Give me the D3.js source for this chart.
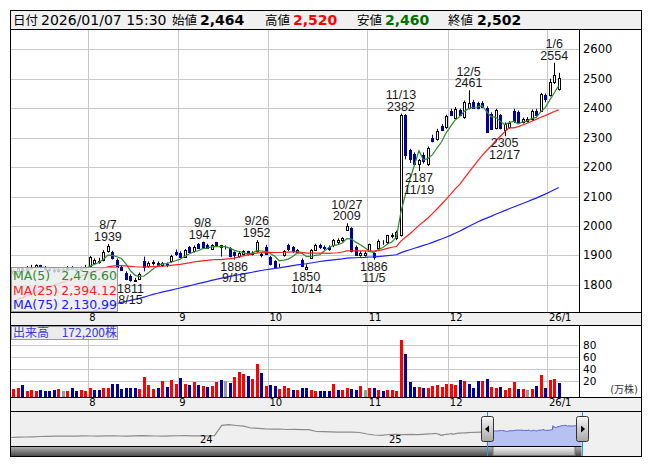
<!DOCTYPE html>
<html lang="ja">
<head>
<meta charset="utf-8">
<title>株価チャート</title>
<script src="https://cdn.jsdelivr.net/npm/d3@7/dist/d3.min.js"></script>
<style>
  html, body { margin: 0; padding: 0; background: #fff; }
  svg { display: block; }
  text { font-family: "DejaVu Sans", "Noto Sans CJK JP", sans-serif; }
  .jp { font-family: "Noto Sans CJK JP", sans-serif; }
  .note { font-family: "Liberation Sans", Arial, sans-serif; }
</style>
</head>
<body>
<svg id="chart" width="653" height="470"></svg>
<script>
// ---------- daily sessions ----------
const dates = [
  "2025-07-08","2025-07-09","2025-07-10","2025-07-11","2025-07-14","2025-07-15","2025-07-16","2025-07-17","2025-07-18",
  "2025-07-22","2025-07-23","2025-07-24","2025-07-25","2025-07-28","2025-07-29","2025-07-30","2025-07-31",
  "2025-08-01","2025-08-04","2025-08-05","2025-08-06","2025-08-07","2025-08-08","2025-08-12","2025-08-13","2025-08-14",
  "2025-08-15","2025-08-18","2025-08-19","2025-08-20","2025-08-21","2025-08-22","2025-08-25","2025-08-26","2025-08-27",
  "2025-08-28","2025-08-29",
  "2025-09-01","2025-09-02","2025-09-03","2025-09-04","2025-09-05","2025-09-08","2025-09-09","2025-09-10","2025-09-11",
  "2025-09-12","2025-09-16","2025-09-17","2025-09-18","2025-09-19","2025-09-22","2025-09-24","2025-09-25","2025-09-26",
  "2025-09-29","2025-09-30",
  "2025-10-01","2025-10-02","2025-10-03","2025-10-06","2025-10-07","2025-10-08","2025-10-09","2025-10-10","2025-10-14",
  "2025-10-15","2025-10-16","2025-10-17","2025-10-20","2025-10-21","2025-10-22","2025-10-23","2025-10-24","2025-10-27",
  "2025-10-28","2025-10-29","2025-10-30","2025-10-31",
  "2025-11-04","2025-11-05","2025-11-06","2025-11-07","2025-11-10","2025-11-11","2025-11-12","2025-11-13","2025-11-14",
  "2025-11-17","2025-11-18","2025-11-19","2025-11-20","2025-11-21","2025-11-25","2025-11-26","2025-11-27","2025-11-28",
  "2025-12-01","2025-12-02","2025-12-03","2025-12-04","2025-12-05","2025-12-08","2025-12-09","2025-12-10","2025-12-11",
  "2025-12-12","2025-12-15","2025-12-16","2025-12-17","2025-12-18","2025-12-19","2025-12-22","2025-12-23","2025-12-24",
  "2025-12-25","2025-12-26","2025-12-29","2025-12-30",
  "2026-01-05","2026-01-06","2026-01-07"
];
const opens = [
  1842,1848,1856,1850,1858,1862,1866,1860,1854,1850,1846,1854,1852,1860,1854,1850,1856,
  1864,1874,1878,1884,1915,1912,1886,1862,1842,1830,1813,1820,1880,1864,1874,1876,1866,1872,1880,1912,
  1910,1896,1928,1914,1938,1944,1936,1922,1944,1934,1930,1926,1912,1898,1906,1914,1904,1914,1902,1928,
  1894,1880,1866,1900,1936,1930,1912,1886,1854,1892,1920,1936,1930,1930,1934,1944,1952,1988,1994,1930,1902,1900,
  1916,1910,1926,1946,1944,1966,1958,1970,2376,2258,2246,2212,2242,2210,2300,2296,2340,2336,
  2392,2368,2394,2370,2400,2422,2416,2418,2402,2382,2334,2376,2326,2336,2392,2388,2354,2356,2362,2392,2392,2444,
  2444,2490,2464
];
const highs = [
  1852,1860,1860,1864,1868,1870,1868,1864,1858,1856,1858,1860,1864,1864,1858,1862,1868,
  1898,1890,1892,1918,1939,1916,1890,1866,1846,1836,1824,1842,1896,1880,1884,1880,1878,1876,1902,1920,
  1914,1922,1932,1934,1942,1947,1940,1938,1946,1936,1934,1928,1914,1914,1918,1916,1914,1952,1910,1936,
  1898,1884,1872,1918,1940,1932,1922,1890,1870,1922,1940,1940,1934,1934,1956,1958,1962,2009,1996,1934,1914,1914,
  1940,1912,1954,1952,1970,1976,1984,2382,2380,2262,2250,2228,2250,2270,2310,2330,2346,2378,
  2398,2404,2398,2426,2461,2428,2422,2424,2406,2386,2398,2380,2352,2356,2398,2392,2368,2370,2396,2398,2452,2450,
  2500,2554,2520
];
const lows = [
  1836,1844,1846,1848,1852,1856,1854,1850,1844,1840,1842,1846,1848,1850,1844,1846,1852,
  1860,1870,1872,1880,1910,1886,1858,1848,1816,1811,1812,1818,1846,1858,1866,1862,1862,1860,1876,1898,
  1890,1892,1908,1910,1922,1926,1922,1918,1930,1896,1920,1894,1886,1892,1900,1900,1900,1910,1894,1904,
  1866,1858,1860,1896,1914,1908,1908,1860,1850,1888,1915,1922,1918,1916,1928,1938,1946,1984,1910,1898,1896,1896,
  1912,1886,1922,1936,1938,1958,1952,1964,2226,2214,2204,2187,2212,2204,2284,2290,2322,2330,
  2374,2364,2374,2364,2396,2400,2396,2400,2316,2326,2328,2328,2305,2330,2350,2346,2348,2352,2358,2372,2388,2420,
  2440,2482,2460
];
const closes = [
  1848,1856,1850,1858,1862,1866,1860,1854,1850,1846,1852,1852,1858,1854,1850,1856,1862,
  1894,1886,1882,1912,1932,1890,1862,1852,1820,1816,1815,1838,1862,1876,1878,1866,1874,1868,1898,1904,
  1894,1918,1912,1930,1926,1930,1924,1934,1936,1928,1928,1898,1900,1910,1914,1904,1910,1944,1904,1906,
  1870,1862,1868,1916,1922,1916,1920,1864,1862,1920,1936,1930,1926,1922,1954,1952,1958,2000,1914,1902,1908,1908,
  1938,1896,1950,1944,1968,1970,1980,2377,2240,2226,2212,2224,2220,2266,2290,2324,2326,2372,
  2378,2398,2378,2420,2418,2402,2400,2404,2320,2330,2394,2332,2346,2350,2356,2352,2362,2362,2390,2378,2447,2432,
  2490,2512,2502
];
// 出来高（万株）
const volumes = [
  6,8,13,3,5,4,5,3,4,5,6,3,3,8,3,5,4,
  8,5,5,8,8,15,15,7,8,9,8,7,26,13,7,8,20,10,22,15,
  25,15,13,18,14,12,10,12,19,22,20,17,27,35,32,28,23,48,33,12,
  14,12,6,11,9,5,5,8,8,5,3,3.3,3.3,3.3,15,5,5,8.3,6.7,5,11.7,5,
  8.3,8.3,5,3.3,5,5,3.3,88,65,19,10,10,8.3,8.3,11.7,13,10,15,
  15,13,21.7,20,15,8.3,20,20,23,10,8.3,10,5,8.3,18,6.7,6.7,5,6.7,11.7,30,8.3,
  21.7,23,17.22
];
// closes of the 74 sessions before the first candle (2025-03-21 .. 2025-07-07)
const priorCloses = [
  1580,1590,1585,1600,1610,1598,1570,1555,1540,1520,1480,
  1420,1450,1400,1480,1470,1490,1500,1510,1505,1520,1530,1545,1550,1560,1575,1580,1585,
  1520,1530,1550,1570,1580,1610,1630,1640,1635,1645,1650,1642,1648,1655,1660,1652,1658,1665,1670,1668,
  1692,1695,1688,1700,1705,1698,1702,1710,1715,1708,1712,1720,1718,1725,1730,1722,1728,1735,1740,1745,1750,
  1800,1815,1822,1830,1840
];
// longer history for the overview strip: one close every 14 days from 2023-01-04
const historyStart = "2023-01-04";
const historyStepDays = 14;
const historyCloses = [
  1200,1230,1250,1270,1300,1320,1340,1330,1350,1345,1360,1350,1340,1355,1370,1350,1345,1360,1380,1365,
  1350,1340,1360,1375,1390,1370,1355,1360,1380,2420,2480,2400,2330,2150,2120,2060,2040,2050,2000,2020,
  1980,1990,1800,1780,1760,1740,1750,1730,1700,1550,1450,1420,1500,1520,1480,1510,1490,1530
];
const priceTicks = [1800, 1900, 2000, 2100, 2200, 2300, 2400, 2500, 2600];
const volumeTicks = [20, 40, 60, 80];
const maPeriods = [5, 25, 75];
// sessions marked with their high or low
const markedHighs = [21, 42, 54, 74, 86, 101, 120];
const markedLows = [26, 49, 65, 80, 90, 109];
const quoteTime = "15:30";

// ---------- layout ----------
const plotL = 11, plotR = 579, frameR = 641;
const headT = 10, headB = 29;
const mainT = 29, mainB = 312;
const volT = 325, volB = 397;
const axis2B = 411;
const navT = 411, navB = 446, scrollB = 456;
const navR = 581.5;
const emptySlots = 4;

const svg = d3.select("#chart");
const parse = d3.timeParse("%Y-%m-%d");
const n = dates.length;
const allCloses = priorCloses.concat(closes);
const fmtInt = d3.format(",");
const fmtMA = d3.format(",.2f");

const x = d3.scaleBand().domain(d3.range(n + emptySlots)).range([plotL, plotR])
  .paddingInner(0.3).paddingOuter(0.15);
const step = x.step();
const cx = i => x(i) + x.bandwidth() / 2;
const slotEdge = i => x(i) - step * x.paddingInner() / 2;

const yP = d3.scaleLinear().domain([1800, 2600]).range([284.9, 49.3]);
const yV = d3.scaleLinear().domain([0, 80]).range([393, 345]);

const gridColor = "#c8c8c8";
const upColor = "#ff0000", downColor = "#00009c", flatColor = "#999999";
const maColors = ["#2e8b2e", "#ff2020", "#2020ff"];

function movingAverage(period) {
  const off = priorCloses.length;
  return closes.map((c, i) => {
    const end = off + i, start = end - period + 1;
    return start < 0 ? null : d3.mean(allCloses.slice(start, end + 1));
  });
}

// month boundaries
const monthStarts = [];
dates.forEach((d, i) => {
  if (i > 0 && d.slice(0, 7) !== dates[i - 1].slice(0, 7)) monthStarts.push(i);
});
const monthLabel = i => {
  const dt = parse(dates[i]);
  return dt.getMonth() === 0 ? `${String(dt.getFullYear()).slice(2)}/1` : String(dt.getMonth() + 1);
};
const md = i => { const dt = parse(dates[i]); return `${dt.getMonth() + 1}/${dt.getDate()}`; };

// ---------- frame and header ----------
svg.append("rect").attr("x", 10.5).attr("y", headT + 0.5).attr("width", frameR - 10).attr("height", scrollB - headT)
  .attr("fill", "#f0f0f0").attr("stroke", "#000");

const last = n - 1;
const head = svg.append("g");
const headBase = 24.5;
const headItems = [
  { label: "日付", lx: 13, value: `${dates[last].replace(/-/g, "/")} ${quoteTime}`, vx: 41, bold: false, color: "#000" },
  { label: "始値", lx: 172, value: fmtInt(opens[last]), vx: 200, bold: true, color: "#000" },
  { label: "高値", lx: 265, value: fmtInt(highs[last]), vx: 293, bold: true, color: "#ff0000" },
  { label: "安値", lx: 357, value: fmtInt(lows[last]), vx: 385, bold: true, color: "#007000" },
  { label: "終値", lx: 448, value: fmtInt(closes[last]), vx: 477, bold: true, color: "#000" }
];
headItems.forEach(h => {
  head.append("text").attr("class", "jp").attr("x", h.lx).attr("y", headBase)
    .attr("font-size", 12.5).attr("fill", "#000").text(h.label);
  head.append("text").attr("x", h.vx).attr("y", headBase).attr("font-size", 14)
    .attr("font-weight", h.bold ? "bold" : "normal").attr("fill", h.color).text(h.value);
});

// ---------- panels ----------
function panel(top, bottom) {
  svg.append("rect").attr("x", plotL).attr("y", top).attr("width", frameR - plotL).attr("height", bottom - top).attr("fill", "#fff");
}
panel(mainT, mainB);
panel(volT, volB);

// axis bands
function monthBand(top, bottom) {
  svg.append("rect").attr("x", plotL).attr("y", top).attr("width", frameR - plotL).attr("height", bottom - top).attr("fill", "#f0f0f0");
  svg.append("g").selectAll("text").data(monthStarts).join("text")
    .attr("x", i => slotEdge(i) + 1.5).attr("y", top + 9).attr("font-size", 10).attr("fill", "#000")
    .text(monthLabel);
}
monthBand(mainB, volT);
monthBand(volB, axis2B);

// gridlines
function vGrid(top, bottom) {
  svg.append("g").selectAll("line").data(monthStarts).join("line")
    .attr("x1", i => Math.round(slotEdge(i)) + 0.5).attr("x2", i => Math.round(slotEdge(i)) + 0.5)
    .attr("y1", top).attr("y2", bottom).attr("stroke", gridColor);
}
vGrid(mainT, mainB);
vGrid(volT, volB);
svg.append("g").selectAll("line").data(priceTicks).join("line")
  .attr("x1", plotL).attr("x2", plotR).attr("y1", d => Math.round(yP(d)) + 0.5).attr("y2", d => Math.round(yP(d)) + 0.5)
  .attr("stroke", gridColor);
svg.append("g").selectAll("line").data(volumeTicks).join("line")
  .attr("x1", plotL).attr("x2", plotR).attr("y1", d => Math.round(yV(d)) + 0.5).attr("y2", d => Math.round(yV(d)) + 0.5)
  .attr("stroke", gridColor);

// right axes
svg.append("g").selectAll("text").data(priceTicks).join("text")
  .attr("x", plotR + 4).attr("y", d => yP(d) + 4).attr("font-size", 11.5).attr("fill", "#000").text(d => d);
svg.append("g").selectAll("text").data(volumeTicks).join("text")
  .attr("x", plotR + 4).attr("y", d => yV(d) + 4).attr("font-size", 10.5).attr("fill", "#000").text(d => d);
svg.append("text").attr("x", frameR - 3).attr("y", volB - 4).attr("text-anchor", "end")
  .attr("font-size", 10).attr("fill", "#333").text("(万株)");

// ---------- candles ----------
svg.append("clipPath").attr("id", "mainClip").append("rect")
  .attr("x", plotL).attr("y", mainT).attr("width", plotR - plotL).attr("height", mainB - mainT);
const mainG = svg.append("g").attr("clip-path", "url(#mainClip)");

const sessions = d3.range(n);
const isUp = i => closes[i] >= opens[i];
const candle = mainG.append("g").selectAll("g").data(sessions).join("g");
candle.append("line")
  .attr("x1", i => Math.round(cx(i)) + 0.5).attr("x2", i => Math.round(cx(i)) + 0.5)
  .attr("y1", i => yP(highs[i])).attr("y2", i => yP(lows[i]))
  .attr("stroke", i => isUp(i) ? "#000" : downColor).attr("stroke-width", 1);
candle.append("rect")
  .attr("x", i => Math.round(cx(i)) - 1 + 0.5)
  .attr("y", i => Math.round(yP(Math.max(opens[i], closes[i]))) + 0.5)
  .attr("width", 2)
  .attr("height", i => Math.max(0, Math.round(yP(Math.min(opens[i], closes[i]))) - Math.round(yP(Math.max(opens[i], closes[i])))))
  .attr("fill", i => isUp(i) ? "#fff" : downColor)
  .attr("stroke", i => isUp(i) ? "#000" : downColor)
  .attr("shape-rendering", "crispEdges");

// moving averages
maPeriods.forEach((p, k) => {
  const ma = movingAverage(p);
  mainG.append("path")
    .datum(sessions)
    .attr("fill", "none").attr("stroke", maColors[k]).attr("stroke-width", 1.2)
    .attr("d", d3.line().defined(i => ma[i] != null).x(cx).y(i => yP(ma[i])));
});

// high / low markers
const noteFont = 12.5, noteGap = 11.7;
markedHighs.forEach(i => {
  const t = mainG.append("text").attr("class", "note").attr("text-anchor", "middle")
    .attr("font-size", noteFont).attr("fill", "#1a1a1a");
  t.append("tspan").attr("x", cx(i)).attr("y", yP(highs[i]) - 3 - noteGap).text(md(i));
  t.append("tspan").attr("x", cx(i)).attr("y", yP(highs[i]) - 3).text(highs[i]);
});
markedLows.forEach(i => {
  const t = mainG.append("text").attr("class", "note").attr("text-anchor", "middle")
    .attr("font-size", noteFont).attr("fill", "#1a1a1a");
  t.append("tspan").attr("x", cx(i)).attr("y", yP(lows[i]) + 11).text(lows[i]);
  t.append("tspan").attr("x", cx(i)).attr("y", yP(lows[i]) + 11 + noteGap).text(md(i));
});

// moving-average legend
const maLegend = svg.append("g");
maLegend.append("rect").attr("x", plotL + 0.5).attr("y", 267.5).attr("width", 106).attr("height", 44)
  .attr("fill", "#ececec").attr("fill-opacity", 0.82).attr("stroke", "#9a9a9a");
maPeriods.forEach((p, k) => {
  const ma = movingAverage(p);
  maLegend.append("text").attr("x", 13).attr("y", 280 + k * 14.5).attr("font-size", 12.5).attr("fill", maColors[k])
    .text(`MA(${p})`);
  maLegend.append("text").attr("x", 117).attr("y", 280 + k * 14.5).attr("font-size", 12.5).attr("fill", maColors[k])
    .attr("text-anchor", "end").text(fmtMA(ma[last]));
});

// ---------- volume ----------
const prevClose = i => i === 0 ? priorCloses[priorCloses.length - 1] : closes[i - 1];
const volColor = i => closes[i] > prevClose(i) ? upColor : closes[i] < prevClose(i) ? downColor : flatColor;
svg.append("g").selectAll("rect").data(sessions).join("rect")
  .attr("x", i => Math.round(cx(i)) - 1).attr("width", 3)
  .attr("y", i => Math.round(yV(volumes[i])))
  .attr("height", i => volB - Math.round(yV(volumes[i])))
  .attr("fill", volColor).attr("shape-rendering", "crispEdges");

const volLegend = svg.append("g");
volLegend.append("rect").attr("x", plotL + 0.5).attr("y", volT + 1.5).attr("width", 106).attr("height", 13)
  .attr("fill", "#ececec").attr("stroke", "#9a9a9a");
volLegend.append("text").attr("class", "jp").attr("x", 13).attr("y", volT + 11.5).attr("font-size", 12)
  .attr("fill", "#3a3ad0").text("出来高");
volLegend.append("text").attr("class", "jp").attr("x", 117).attr("y", volT + 11.5).attr("font-size", 12)
  .attr("text-anchor", "end").attr("fill", "#3a3ad0").text(`${fmtInt(Math.round(volumes[last] * 10000))}株`);

// ---------- overview strip ----------
const navPoints = historyCloses.map((v, k) => ({ date: d3.timeDay.offset(parse(historyStart), k * historyStepDays), v }));
let pd = parse(dates[0]);
const priorDates = [];
while (priorDates.length < priorCloses.length) {
  pd = d3.timeDay.offset(pd, -1);
  if (pd.getDay() !== 0 && pd.getDay() !== 6) priorDates.unshift(pd);
}
priorCloses.forEach((v, k) => navPoints.push({ date: priorDates[k], v }));
const windowPoints = dates.map((d, i) => ({ date: parse(d), v: closes[i] }));
const navX = d3.scaleTime().domain([parse(historyStart), parse(dates[last])]).range([plotL, navR]);
const navY = d3.scaleLinear().domain([1100, 2700]).range([438.5, 422.5]);

svg.append("rect").attr("x", plotL).attr("y", navT).attr("width", navR - plotL).attr("height", navB - navT).attr("fill", "#efefef");
const winX0 = navX(parse(dates[0]));
svg.append("path").datum(windowPoints)
  .attr("fill", "#b6c2f3")
  .attr("d", d3.area().x(d => navX(d.date)).y0(navB).y1(d => navY(d.v)));
svg.append("path").datum(navPoints.concat([windowPoints[0]]))
  .attr("fill", "none").attr("stroke", "#8c8c8c").attr("stroke-width", 1.2)
  .attr("d", d3.line().x(d => navX(d.date)).y(d => navY(d.v)));
svg.append("path").datum(windowPoints)
  .attr("fill", "none").attr("stroke", "#5a5ac8").attr("stroke-width", 1)
  .attr("d", d3.line().x(d => navX(d.date)).y(d => navY(d.v)));

// year labels
[2024, 2025].forEach(yr => {
  const first = navPoints.find(d => d.date.getFullYear() === yr);
  svg.append("text").attr("x", navX(first.date)).attr("y", navB - 3.5).attr("font-size", 10).attr("fill", "#000")
    .text(String(yr).slice(2));
});

// scrollbar
const defs = svg.append("defs");
const sg = defs.append("linearGradient").attr("id", "scrollGrad").attr("x1", 0).attr("x2", 0).attr("y1", 0).attr("y2", 1);
sg.append("stop").attr("offset", 0).attr("stop-color", "#b8b8b8");
sg.append("stop").attr("offset", 1).attr("stop-color", "#4a4a4a");
svg.append("rect").attr("x", plotL).attr("y", navB).attr("width", navR - plotL).attr("height", scrollB - navB).attr("fill", "url(#scrollGrad)");
const tg = defs.append("linearGradient").attr("id", "thumbGrad").attr("x1", 0).attr("x2", 0).attr("y1", 0).attr("y2", 1);
tg.append("stop").attr("offset", 0).attr("stop-color", "#f6f6f6");
tg.append("stop").attr("offset", 1).attr("stop-color", "#a8a8a8");
svg.append("rect").attr("x", winX0 + 6.5).attr("y", navB + 0.5).attr("width", navR - winX0 - 13).attr("height", scrollB - navB - 1)
  .attr("fill", "url(#thumbGrad)").attr("stroke", "#777");
svg.append("line").attr("x1", plotL).attr("x2", navR).attr("y1", navB + 0.5).attr("y2", navB + 0.5).attr("stroke", "#000");

// window handles
[winX0, navR].forEach((hx, k) => {
  const lx = Math.round(hx) + 0.5;
  svg.append("line").attr("x1", lx).attr("x2", lx).attr("y1", navT).attr("y2", scrollB)
    .attr("stroke", "#1aa0e0");
  svg.append("rect").attr("x", lx - 6).attr("y", 416.5).attr("width", 12).attr("height", 25).attr("rx", 2)
    .attr("fill", "url(#thumbGrad)").attr("stroke", "#333");
  svg.append("path").attr("fill", "#000")
    .attr("d", k === 0 ? `M${lx - 2.5},429L${lx + 1.5},425.5L${lx + 1.5},432.5Z`
                        : `M${lx + 2.5},429L${lx - 1.5},425.5L${lx - 1.5},432.5Z`);
});

// ---------- frame lines ----------
const frame = svg.append("g").attr("stroke", "#000").attr("fill", "none").attr("shape-rendering", "crispEdges");
[mainB, volT, volB, axis2B].forEach(yy => frame.append("line").attr("x1", plotL).attr("x2", frameR).attr("y1", yy + 0.5).attr("y2", yy + 0.5));
frame.append("line").attr("x1", plotR + 0.5).attr("x2", plotR + 0.5).attr("y1", headB).attr("y2", mainB);
frame.append("line").attr("x1", plotR + 0.5).attr("x2", plotR + 0.5).attr("y1", volT).attr("y2", volB);
frame.append("rect").attr("x", 10.5).attr("y", headT + 0.5).attr("width", frameR - 10).attr("height", scrollB - headT);
frame.append("line").attr("x1", 10.5).attr("x2", frameR + 0.5).attr("y1", headB + 0.5).attr("y2", headB + 0.5);
</script>
</body>
</html>
